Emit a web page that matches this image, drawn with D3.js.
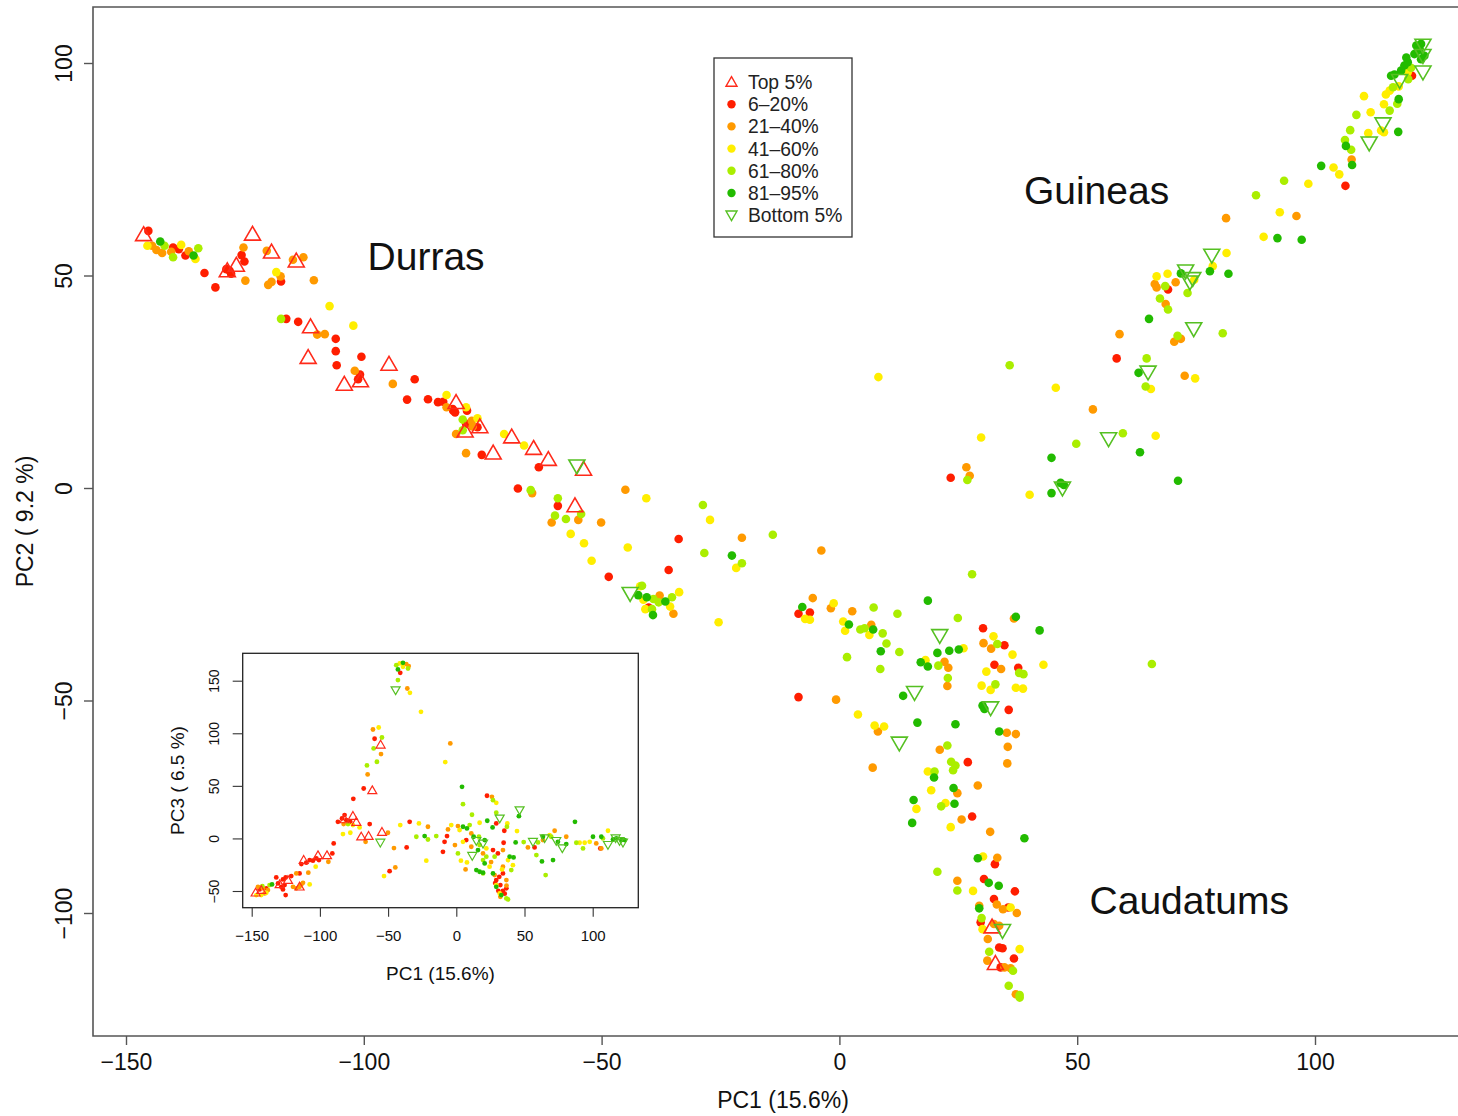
<!DOCTYPE html>
<html><head><meta charset="utf-8">
<script src="https://cdn.jsdelivr.net/npm/d3@7"></script>
<style>
body{margin:0;background:#fff}
svg{display:block}
text{font-family:"Liberation Sans",Arial,Helvetica,sans-serif}
</style>
</head><body>
<svg id="c" width="1458" height="1116"></svg>
<script>
// ---------------- DATA (PC1, PC2) main plot ----------------
const xTicks = [-150, -100, -50, 0, 50, 100];
const yTicks = [-100, -50, 0, 50, 100];
const insetXTicks = [-150, -100, -50, 0, 50, 100];
const insetYTicks = [-50, 0, 50, 100, 150];
const legendLabels = ["Top 5%", "6–20%", "21–40%", "41–60%", "61–80%", "81–95%", "Bottom 5%"];
const groupLabels = [["Durras", -99.2, 51.3], ["Guineas", 38.8, 66.8], ["Caudatums", 52.6, -100.2]];

const top5 = [[-146.3,59.3],[-123.4,59.4],[-119.4,55.2],[-126.8,52.1],[-128.7,50.8],[-114.2,53.1],[-111.2,37.6],[-111.7,30.4],[-94.7,28.8],[-104.1,24.1],[-100.7,24.9],[-80.6,19.8],[-78.7,13.1],[-75.6,14.1],[-68.9,11.7],[-64.3,9],[-72.8,7.9],[-61.2,6.4],[-53.8,4.1],[-55.6,-4.5],[32.1,-103.6],[32.8,-112.2]];
const p6_20 = [[-145.3,60.5],[-140.1,56.6],[-138.9,56.2],[-137.5,54.7],[-133.5,50.6],[-131.2,47.2],[-128.9,51.5],[-127.9,50.4],[-128.2,51.1],[-125.7,54.8],[-125.1,53.3],[-117.4,48.6],[-116.3,39.8],[-113.8,39.1],[-105.9,35.1],[-105.9,32.2],[-105.7,28.9],[-100.5,30.9],[-100.8,26.7],[-101.2,25.6],[-89.3,25.6],[-90.9,20.8],[-86.5,20.9],[-84.4,20.2],[-81.3,18.6],[-83.3,20.3],[-81.2,18.2],[-80.8,17.8],[-78.3,18.2],[-78.5,15.1],[-76.1,14.3],[-75.2,7.8],[-63.2,4.9],[-67.6,-0.1],[-59.2,-4.2],[-48.5,-20.9],[-33.8,-12],[-35.9,-19.3],[-40.1,-28.1],[-8.6,-29.6],[-6.2,-29.3],[-8.6,-49.2],[30.2,-33],[34.7,-37],[32.6,-41.6],[37.6,-42.3],[35.6,-52.2],[27,-64.5],[27.9,-77.3],[32.7,-88.5],[30.4,-92],[36.9,-94.9],[32.5,-96.7],[35.5,-98.7],[29.7,-102.2],[33.6,-108.1],[34.3,-108.3],[36.7,-110.7],[33.9,-112.8],[58.3,30.5],[23.4,2.4],[69.1,46.7],[106.4,71.1],[120.4,97]];
const p21_40 = [[-144.5,57],[-143.6,56],[-142.4,55.3],[-140.5,55.6],[-136.8,55.7],[-125.3,56.6],[-124.9,48.8],[-120.4,55.8],[-114.9,53.7],[-112.7,54.3],[-119.4,48.5],[-120.1,47.8],[-117.5,49.8],[-110.5,48.9],[-109.8,36.1],[-108.2,36.2],[-101.9,27.6],[-93.9,24.5],[-82.6,19],[-77.3,15.8],[-77.1,14.5],[-80.6,12.7],[-78.5,8.2],[-64.6,-1.2],[-60.5,-8.1],[-54.9,-7.5],[-50.1,-8.1],[-45,-0.4],[-37.8,-25.3],[-34.9,-29.6],[-20.5,-11.7],[-3.8,-14.7],[-5.6,-25.9],[-1.8,-28.3],[2.7,-29],[6.7,-32.2],[-0.7,-49.8],[8.1,-57.3],[7,-65.8],[30.3,-36.5],[31.9,-37.8],[36.7,-30.7],[34,-42.6],[22.1,-40.9],[22.9,-42.3],[22.7,-46.6],[35.2,-57.6],[37.1,-57.9],[35.4,-60.9],[35.3,-64.8],[21.1,-61.6],[24.8,-71.8],[29.1,-70],[25.7,-78],[31.7,-80.9],[33.2,-87],[24.8,-92.4],[33.1,-98],[34.4,-99.1],[37.3,-100],[29.4,-98.3],[32.5,-102.6],[33.6,-103],[31.2,-106.1],[31.1,-111.2],[36,-113],[34.7,-112.8],[37.1,-119.1],[66.3,48],[66.7,47.2],[70.7,48.4],[68.6,43.3],[70.4,34.4],[71.8,35.1],[58.9,36.2],[72.6,26.4],[53.3,18.5],[26.7,4.9],[27.4,2.9],[81.3,63.5],[96.1,64],[107.7,77.3]];
const p41_60 = [[-145.5,57],[-138.4,57.2],[-135.4,53.9],[-118.4,50.8],[-107.2,42.8],[-102.2,38.2],[-82.6,21.9],[-78.5,19],[-76.1,16.4],[-70.5,12.7],[-66.3,10],[-40.6,-2.4],[-56.5,-10.8],[-53.7,-13],[-44.5,-14],[-52.1,-17.1],[-27.2,-7.5],[-21.7,-18.8],[-41.9,-23.1],[-41.2,-26.3],[-33.7,-24.5],[-35.6,-27.9],[-40.8,-28.5],[-25.4,-31.6],[-7.2,-30.8],[-6.2,-31],[-1.2,-27.1],[0.8,-31.4],[1.2,-33.6],[6.3,-34.6],[26.1,-37.7],[18.1,-40.5],[3.9,-53.3],[7.4,-55.9],[9.4,-56.1],[32.4,-34.9],[36.4,-39.2],[30.9,-43.2],[42.9,-41.6],[29.9,-46.5],[31.8,-47.5],[37.1,-47],[38.6,-47.2],[18.6,-66.7],[19.3,-71.1],[16.2,-75.5],[22.3,-74.1],[23.4,-79.8],[30.2,-86.7],[28.1,-94.8],[36,-98.7],[30.1,-103.8],[37.9,-108.5],[40,-1.6],[8.2,26.1],[29.8,11.9],[45.5,23.6],[66.5,12.3],[65.5,23.3],[74.8,25.8],[74.6,49],[66.7,49.8],[69,50.4],[78.5,52.2],[81.4,55.3],[89.2,59.1],[92.6,64.9],[98.6,71.6],[103.9,75.4],[105.1,73.8],[111.2,83.5],[113.9,84.1],[114.5,83.7],[111.7,88.4],[110.3,92.2],[114.5,90.3],[114.9,92.6],[115.7,93.5],[117.6,94.5],[119.5,97.8]];
const p61_80 = [[-141.9,57],[-140.1,54.3],[-134.8,56.4],[-117.4,39.8],[-79.2,16.1],[-79.2,13.6],[-64.9,-0.5],[-59.2,-2.4],[-54.3,-6.1],[-59.8,-6.5],[-57.5,-7.3],[-28.7,-4],[-28.4,-15.3],[-14,-11],[-20.5,-17.7],[-41.5,-23],[-39.1,-26.1],[-38,-26.9],[-35.2,-25.7],[-39.4,-28.5],[27.9,-20.3],[7.2,-28.1],[12.2,-29.6],[4.4,-33.3],[5.3,-33],[9.1,-34.2],[9.9,-36.6],[12.6,-38.6],[1.6,-39.8],[8.6,-42.6],[24.9,-30.6],[20.8,-41.8],[22.8,-44.7],[33.2,-36.7],[37.8,-43.5],[38.7,-43.8],[32.8,-46.2],[22.7,-60.6],[23.5,-64.4],[24.4,-65.3],[23.9,-66.4],[20,-66.7],[21.4,-74.9],[20.6,-90.3],[24.8,-94.7],[29.9,-101.2],[31.5,-109.1],[36.5,-113.6],[35.6,-117.1],[37.9,-119.3],[37.9,-119.9],[65.7,-41.4],[35.8,28.9],[49.8,10.4],[59.6,12.9],[26.9,1.9],[64.6,30.5],[64.4,23.9],[71.1,35.8],[80.6,36.4],[68.5,47.5],[73.2,45.9],[67.4,44.6],[69.1,42],[87.6,68.9],[93.5,72.3],[107.6,79.6],[106.3,81.9],[107.4,84.2],[108.7,87.8],[115.7,88.8],[117.3,90.4],[116.4,94.3],[119.6,96.2],[120.2,98.9]];
const p81_95 = [[-142.8,58],[-135.8,54.7],[-42.3,-25.2],[-40.5,-25.7],[-36.6,-26.7],[-39.2,-29.9],[-22.6,-15.9],[-7.8,-28],[2,-32.1],[7.1,-33.3],[8.7,-38.4],[18.6,-26.5],[20.6,-38.8],[23.1,-38.3],[25.1,-38],[17.1,-41],[18.6,-42],[13.4,-48.9],[16.4,-55.2],[24.4,-55.6],[37.1,-30.3],[42.1,-33.5],[30.1,-51.2],[30.5,-52],[33.6,-57.3],[19.9,-68.1],[24,-70.6],[15.6,-73.4],[24.2,-74.3],[15.3,-78.8],[38.9,-82.4],[29.1,-87.1],[31.4,-92.9],[33.5,-93.6],[29.4,-98.9],[44.6,-1.2],[46.5,1.2],[47.2,0.7],[44.6,7.1],[63.2,8.4],[71.2,1.7],[62.9,27.1],[65.1,39.8],[71.8,50.5],[77.9,51],[81.8,50.4],[92.1,58.8],[97.2,58.4],[101.3,75.8],[107.8,76],[106.5,80.5],[117.5,83.8],[117.6,91.5],[116,97],[116.7,97.3],[118.1,98.2],[118.8,99.4],[119.5,100.2],[119.2,101.3],[120.9,102.1],[122,103.3],[122.3,104.5],[121.3,104.1],[121.6,102.9],[122.3,100.9],[123,101.7]];
const bottom5 = [[-55.2,5.5],[-44,-24.5],[21.1,-34.4],[15.8,-47.8],[12.6,-59.7],[31.8,-51.4],[34.3,-103.8],[78.3,55.1],[72.8,51.4],[74.3,49.6],[73.7,48.8],[74.5,37.8],[64.9,27.6],[56.6,11.9],[46.9,0.3],[111.4,81.5],[114.3,86],[117.8,96.2],[122.7,98.2],[122.7,104.5],[122.7,102.1]];

// ---------------- DATA (PC1, PC3) inset ----------------
const inTop5 = [[-55.5,88.4],[-61.6,45],[-75.8,20.6],[-73.3,14.9],[-81.9,17.4],[-69.7,1],[-64.3,1.6],[-54.5,5.4],[-94.8,-16.8],[-101.4,-16.8],[-111.9,-21.2],[-123.4,-40.3],[-114.9,-46.6],[-147.1,-52.3],[-143,-49.8],[-129.5,-44.4]];
const in6_20 = [[-41.1,157.5],[-59.9,94.8],[-67.9,47.5],[-75.5,37.7],[22.5,40.6],[29.3,14.3],[35.2,7.3],[-86.8,15.8],[-83.8,19],[-81.9,22.2],[-80.6,17.4],[-77.7,15.8],[-63.5,13.6],[-34.2,15.8],[-36.4,-8.6],[-6.8,2.2],[-8.6,-3.2],[-9.8,-12.7],[-48.9,-31.1],[-89.9,-4.8],[-90.9,-14.3],[-100.7,-20.6],[-102.6,-19],[-105.1,-21.2],[-107.5,-20.6],[-110,-23.1],[-113.6,-24.4],[-114.9,-33.3],[-121,-35.8],[-132,-37.1],[-127.1,-39],[-125.1,-37.1],[-130.7,-42.8],[-128.3,-46],[-127.1,-48.5],[-125.9,-44.4],[-125.1,-53.9],[-144.2,-48.5],[-139.3,-47.5],[30.5,-14.3],[26.9,-11.1],[7.3,-1.6],[57.4,-8.6],[105.6,-9.5],[29.3,-39.6],[32.3,-44.4],[34.2,-49.8],[36.7,-47.5],[30.8,-49.8],[34.2,-33.3],[34.7,-4.1],[28.5,-42.5],[35.5,-52.5],[31.5,-36.5]];
const in21_40 = [[-36.7,165.8],[-34.9,163.9],[-35.9,142.6],[-61.1,103.6],[-55.2,80.2],[-65,60.9],[-4.4,90.3],[26.1,39.6],[-82.6,13.6],[-66.5,-3.2],[-50.1,5.4],[-20.8,11.1],[-45.7,-9.2],[-6.1,8.6],[-1,-6.3],[6.8,-29.5],[-44.7,-27.6],[-93.8,-22.2],[-108.5,-32.6],[-117.3,-33.3],[-112.4,-42.2],[-119.7,-46],[-117.3,-47.5],[-114.9,-46],[-113.6,-43.7],[-145.4,-46],[-141.7,-47.5],[-140.5,-52.3],[-138.1,-49.1],[34.2,-26.9],[19.6,-14.3],[11,-7.9],[1.2,11.7],[11,4.8],[28.1,-34.9],[36.7,-39.6],[34.2,-11.1],[52.5,-8.6],[72.1,7.3],[80.6,1.6],[102.6,-4.8],[106.3,-9.5],[63.5,-1.6],[32.3,-55.5],[25.5,-22.5],[36.8,-44.8]];
const in41_60 = [[-41.5,166.4],[-39.1,163.2],[-34,138.5],[-25.9,120.4],[-56.9,105.5],[-8.1,72.6],[29.3,33.9],[17.1,14.9],[37.4,14.3],[44.5,7],[-83.1,4.1],[-77.7,5.4],[-75.8,12.7],[-70.9,10.5],[-41.1,12.7],[-27.4,14.3],[-3.7,12.7],[3.4,-21.2],[7.8,-22.8],[-22,-21.2],[-53,-35.8],[-103.1,-26.9],[-107.5,-43.7],[-146.6,-53.9],[-143,-53.9],[-139.3,-51.7],[24.4,-26.9],[37.9,-20.6],[41.5,-25.4],[22,-9.5],[4.9,-3.2],[2.4,7.9],[31.8,-52.3],[29.3,-44.4],[94.1,-4.1],[97.8,-3.2],[111.2,7.3],[68.4,3.2],[90.4,-4.1],[33.5,-29.5]];
const in61_80 = [[-44,164.8],[-35.4,161.6],[-42.8,150.6],[-54.5,96],[-60.6,85.6],[-58.2,72.9],[-65.5,69.4],[4.9,32.6],[26.9,36.4],[29.3,24.4],[11.5,22.5],[37.1,11.1],[49.4,-3.5],[-79.4,13.6],[-29.3,1.6],[-20.8,-1],[-14.7,2.2],[1.2,-14.3],[-136.9,-44.4],[-142.2,-45.3],[22,-17.4],[19.6,-20.6],[40.3,-30.1],[28.1,-17.4],[17.1,-6.3],[16.6,1.6],[9.8,12.7],[59.9,-3.8],[69.6,1.6],[65.5,-34.9],[58.7,-15.8],[88,-4.1],[92.9,-9.5],[36.7,-57.1],[37.9,-58],[19.6,-33.3],[107.5,0]];
const in81_95 = [[-39.1,167],[-42.8,160.7],[4.2,49.1],[45.9,21.2],[22.7,16.8],[26.6,10.5],[43.5,-3.8],[87,15.8],[-23.2,2.2],[-135.1,-43.7],[14.7,-30.1],[17.1,-31.7],[19.6,-32.6],[20.8,-23.8],[26.9,-33.3],[39.1,-17.4],[42,-18.1],[15.9,-11.1],[20.8,-1.6],[4.9,11.1],[7.8,9.5],[12.7,1.6],[62.8,-21.9],[70.9,-20.6],[74.5,-3.2],[80.6,-5.4],[63.5,1.6],[100.2,1.6],[106.3,1.6],[117.3,0],[121,-1.6],[123.4,-1.6],[114.9,-1],[29.3,-46],[33,-53.9]];
const inBottom5 = [[-44.5,141.7],[31.8,19.7],[46.4,27.6],[-55.7,-3.2],[14.7,-1.6],[19.6,-4.1],[11.7,-15.8],[56.2,-2.5],[64.8,1],[73.3,-1.6],[77.7,-8.6],[111.2,-5.4],[116.8,1],[119.7,-1.6],[122.2,-3.2]];

// ---------------- STYLE ----------------
const COL = {top:"#ff2a1a", red:"#ff1e00", orange:"#ff9a00", yellow:"#ffee00", yg:"#aaee00", green:"#22bb00", bottom:"#55c022"};
const FONT = '"Liberation Sans", Arial, Helvetica, sans-serif';

const svg = d3.select("#c");
const x = d3.scaleLinear().domain([-150, 100]).range([126, 1315]);
const y = d3.scaleLinear().domain([-100, 100]).range([913, 63]);
const F = {l: 93, t: 7, r: 1473, b: 1036};

function triPath(s, up) {
  const h = s * Math.sqrt(3) / 2;
  const a = up ? 1 : -1;
  return `M0,${-a*2*h/3}L${s/2},${a*h/3}L${-s/2},${a*h/3}Z`;
}
function dots(g, data, xs, ys, color, r) {
  g.append("g").selectAll("circle").data(data).join("circle")
    .attr("cx", d => xs(d[0])).attr("cy", d => ys(d[1])).attr("r", r).attr("fill", color);
}
function tris(g, data, xs, ys, color, s, up, sw) {
  g.append("g").selectAll("path").data(data).join("path")
    .attr("transform", d => `translate(${xs(d[0])},${ys(d[1])})`)
    .attr("d", triPath(s, up)).attr("fill", "none").attr("stroke", color).attr("stroke-width", sw);
}

// ---------------- MAIN PLOT ----------------
svg.append("path").attr("d", `M${F.r},${F.t}H${F.l}V${F.b}H${F.r}`)
  .attr("fill", "none").attr("stroke", "#555").attr("stroke-width", 1.6);

const gx = svg.append("g").attr("transform", `translate(0,${F.b})`)
  .call(d3.axisBottom(x).tickValues(xTicks).tickSize(9).tickPadding(9));
gx.attr("font-size", null).attr("font-family", null);
gx.select(".domain").remove();
gx.selectAll("line").attr("stroke", "#555").attr("stroke-width", 1.4);
gx.selectAll("text").attr("font-size", 23).attr("fill", "#111").style("font-family", FONT);

const gy = svg.append("g").attr("transform", `translate(${F.l},0)`)
  .call(d3.axisLeft(y).tickValues(yTicks).tickSize(9));
gy.attr("font-size", null).attr("font-family", null);
gy.select(".domain").remove();
gy.selectAll("line").attr("stroke", "#555").attr("stroke-width", 1.4);
gy.selectAll("text").attr("x", 0).attr("dy", null).attr("text-anchor", "middle")
  .attr("transform", "translate(-21,0) rotate(-90)")
  .attr("font-size", 23).attr("fill", "#111").style("font-family", FONT);

svg.append("text").attr("x", (F.l + F.r) / 2).attr("y", 1108).attr("text-anchor", "middle")
  .attr("font-size", 23).attr("fill", "#111").text("PC1 (15.6%)");
svg.append("text").attr("transform", `translate(33,${(F.t + F.b) / 2}) rotate(-90)`).attr("text-anchor", "middle")
  .attr("font-size", 23).attr("fill", "#111").text("PC2 ( 9.2 %)");

const gm = svg.append("g");
dots(gm, p6_20, x, y, COL.red, 4.3);
dots(gm, p21_40, x, y, COL.orange, 4.3);
dots(gm, p41_60, x, y, COL.yellow, 4.3);
dots(gm, p61_80, x, y, COL.yg, 4.3);
dots(gm, p81_95, x, y, COL.green, 4.3);
tris(gm, top5, x, y, COL.top, 16, true, 1.6);
tris(gm, bottom5, x, y, COL.bottom, 16, false, 1.6);

groupLabels.forEach(([t, gx0, gy0]) => {
  svg.append("text").attr("x", x(gx0)).attr("y", y(gy0)).attr("font-size", 39).attr("fill", "#111").text(t);
});

// legend
const lg = svg.append("g");
lg.append("rect").attr("x", 714).attr("y", 58).attr("width", 138).attr("height", 179)
  .attr("fill", "#fff").attr("stroke", "#333").attr("stroke-width", 1.3);
const legendStyle = [["tri", COL.top, true], ["dot", COL.red], ["dot", COL.orange], ["dot", COL.yellow], ["dot", COL.yg], ["dot", COL.green], ["tri", COL.bottom, false]];
legendLabels.forEach((lab, i) => {
  const cy = 82 + i * 22.2;
  const st = legendStyle[i];
  if (st[0] === "dot") lg.append("circle").attr("cx", 731.5).attr("cy", cy).attr("r", 4.2).attr("fill", st[1]);
  else lg.append("path").attr("transform", `translate(731.5,${cy + (st[2] ? 1 : -1)})`).attr("d", triPath(11, st[2]))
    .attr("fill", "none").attr("stroke", st[1]).attr("stroke-width", 1.4);
  lg.append("text").attr("x", 748).attr("y", cy).attr("dy", "0.36em").attr("font-size", 19.3).attr("fill", "#222").text(lab);
});

// ---------------- INSET ----------------
const I = {l: 242.7, t: 653.3, r: 638.3, b: 907.7};
const xi = d3.scaleLinear().domain([-150, 100]).range([251.7, 592.7]);
const yi = d3.scaleLinear().domain([-50, 150]).range([891, 680.7]);
svg.append("rect").attr("x", I.l).attr("y", I.t).attr("width", I.r - I.l).attr("height", I.b - I.t)
  .attr("fill", "#fff").attr("stroke", "#222").attr("stroke-width", 1.3);
const gix = svg.append("g").attr("transform", `translate(0,${I.b})`)
  .call(d3.axisBottom(xi).tickValues(insetXTicks).tickSize(9).tickPadding(14));
gix.attr("font-size", null).attr("font-family", null);
gix.select(".domain").remove();
gix.selectAll("line").attr("stroke", "#333").attr("stroke-width", 1.1);
gix.selectAll("text").attr("font-size", 15).attr("fill", "#111").style("font-family", FONT);
const giy = svg.append("g").attr("transform", `translate(${I.l},0)`)
  .call(d3.axisLeft(yi).tickValues(insetYTicks).tickSize(10));
giy.attr("font-size", null).attr("font-family", null);
giy.select(".domain").remove();
giy.selectAll("line").attr("stroke", "#333").attr("stroke-width", 1.1);
giy.selectAll("text").attr("x", 0).attr("dy", null).attr("text-anchor", "middle")
  .attr("transform", "translate(-24,0) rotate(-90)")
  .attr("font-size", 14).attr("fill", "#111").style("font-family", FONT);
svg.append("text").attr("x", (I.l + I.r) / 2).attr("y", 980).attr("text-anchor", "middle")
  .attr("font-size", 19).attr("fill", "#111").text("PC1 (15.6%)");
svg.append("text").attr("transform", `translate(184,${(I.t + I.b) / 2}) rotate(-90)`).attr("text-anchor", "middle")
  .attr("font-size", 19).attr("fill", "#111").text("PC3 ( 6.5 %)");

const gi = svg.append("g");
dots(gi, in6_20, xi, yi, COL.red, 2.4);
dots(gi, in21_40, xi, yi, COL.orange, 2.4);
dots(gi, in41_60, xi, yi, COL.yellow, 2.4);
dots(gi, in61_80, xi, yi, COL.yg, 2.4);
dots(gi, in81_95, xi, yi, COL.green, 2.4);
tris(gi, inTop5, xi, yi, COL.top, 9, true, 1.2);
tris(gi, inBottom5, xi, yi, COL.bottom, 9, false, 1.2);
</script>
</body></html>
